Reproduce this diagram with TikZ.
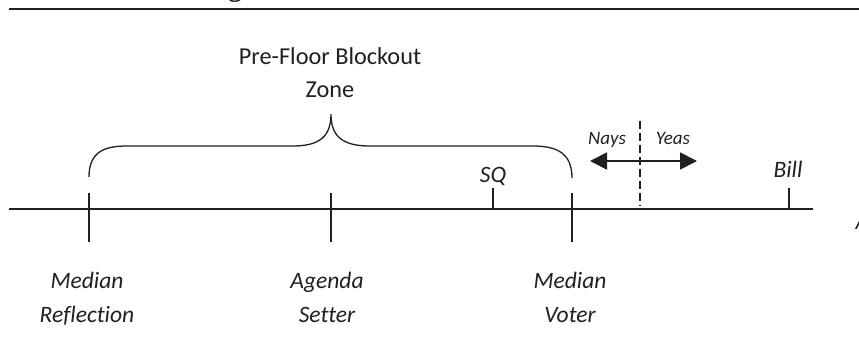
\documentclass[tikz,border=0pt]{standalone}
\usepackage{fontspec}
\setmainfont{Carlito}[Ligatures=NoCommon]
\newfontfamily\titlefont{Liberation Serif}
\usetikzlibrary{arrows.meta}
\definecolor{ink}{HTML}{231F20}
\begin{document}
\begin{tikzpicture}[x=1pt,y=-1pt,
  axisline/.style={draw=ink,line width=1.4pt},
  lbl/.style={text=ink,font=\fontsize{23.5}{28}\selectfont\itshape,inner sep=0pt,anchor=base},
  zonelbl/.style={text=ink,font=\fontsize{24.3}{28}\selectfont,inner sep=0pt,anchor=base},
  smalllbl/.style={text=ink,font=\fontsize{19}{22}\selectfont\itshape,inner sep=0pt,anchor=base}]
\useasboundingbox (0,0) rectangle (859,350);
\fill[white] (0,0) rectangle (859,350);
% cut-off remnants at the edges
\begin{scope}
\clip (0,0) rectangle (859,350);
\node[text=ink,font=\fontsize{27}{30}\selectfont\titlefont\bfseries,inner sep=0pt,anchor=base] (tg) at (235,-3) {g};
\node[text=ink,font=\fontsize{22}{26}\selectfont\itshape,inner sep=0pt,anchor=base west] (edge) at (855.5,229) {A};
\end{scope}
% top rule
\coordinate (ruleL) at (9,9.5);
\coordinate (ruleR) at (859,9.5);
\draw[draw=ink,line width=2pt] (ruleL) -- (ruleR);
% axis
\coordinate (axL) at (9,209);
\coordinate (axR) at (813,209);
\draw[axisline] (axL) -- (axR);
% long ticks
\coordinate (mrT) at (89,193);  \coordinate (mrB) at (89,242);
\coordinate (asT) at (331,193); \coordinate (asB) at (331,242);
\coordinate (mvT) at (572,193); \coordinate (mvB) at (572,242);
\draw[axisline] (mrT) -- (mrB);
\draw[axisline] (asT) -- (asB);
\draw[axisline] (mvT) -- (mvB);
% short ticks
\coordinate (sqT) at (493,188); \coordinate (sqB) at (493,209);
\coordinate (blT) at (789,188); \coordinate (blB) at (789,209);
\draw[axisline] (sqT) -- (sqB);
\draw[axisline] (blT) -- (blB);
% brace
\coordinate (brL) at (89,177);
\coordinate (brTip) at (331,114);
\coordinate (brR) at (572,178);
\draw[axisline,line width=1.3pt] (brL) .. controls (89,152) and (104,146) .. (127,146)
  -- (293,146) .. controls (320,146) and (331,136) .. (brTip)
  .. controls (331,136) and (342,146) .. (370,146)
  -- (533,146) .. controls (558,146) and (572,154) .. (brR);
% dashed threshold
\coordinate (dsT) at (640,121);
\coordinate (dsB) at (640,206);
\draw[draw=ink,line width=1.4pt,dash pattern=on 8pt off 4pt] (dsT) -- (dsB);
% double arrow
\coordinate (arL) at (590,161);
\coordinate (arR) at (697,161);
\draw[draw=ink,line width=1.8pt,{Triangle[length=17pt,width=17pt]}-{Triangle[length=17pt,width=17pt]}] (arL) -- (arR);
% labels
\node[zonelbl] (pfb) at (330,65) {Pre-Floor Blockout};
\node[zonelbl] (zone) at (330,98) {Zone};
\node[lbl] (sq) at (493,182) {SQ};
\node[lbl] (bill) at (788,177) {Bill};
\node[smalllbl] (nays) at (607,145) {Nays};
\node[smalllbl] (yeas) at (673,145) {Yeas};
\node[lbl] (mr1) at (87,288) {Median};
\node[lbl] (mr2) at (87,322) {Reflection};
\node[lbl] (as1) at (327,288) {Agenda};
\node[lbl] (as2) at (327,322) {Setter};
\node[lbl] (mv1) at (570,288) {Median};
\node[lbl] (mv2) at (570,322) {Voter};
\end{tikzpicture}
\end{document}
